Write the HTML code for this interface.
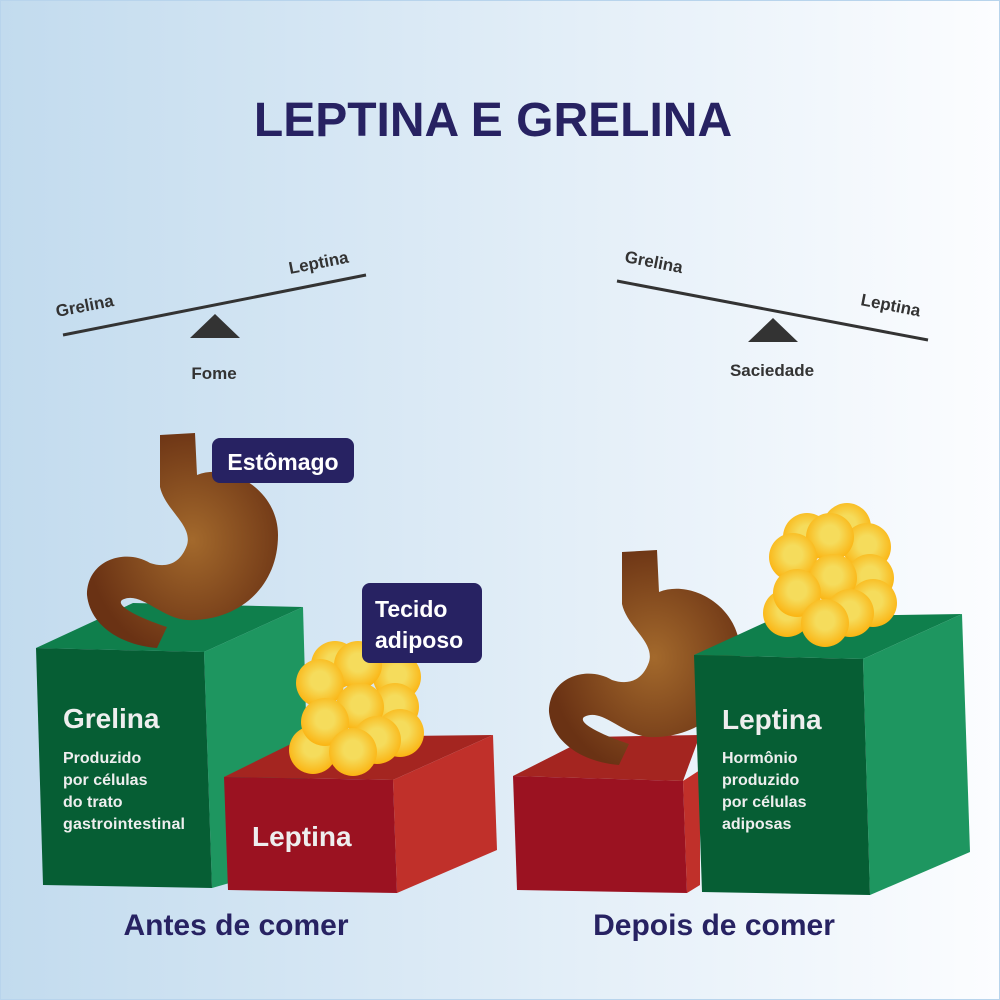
<!DOCTYPE html>
<html><head><meta charset="utf-8"><style>
html,body{margin:0;padding:0}
body{width:1000px;height:1000px;overflow:hidden}
svg{display:block}
text{font-family:"Liberation Sans",sans-serif;font-weight:bold}
</style></head><body>
<svg width="1000" height="1000" viewBox="0 0 1000 1000" xmlns="http://www.w3.org/2000/svg">
<defs>
<linearGradient id="bg" x1="0" y1="0" x2="1" y2="0">
<stop offset="0" stop-color="#c2dbee"/><stop offset="1" stop-color="#fcfdff"/></linearGradient>
<radialGradient id="st" cx="0.55" cy="0.5" r="0.55">
<stop offset="0" stop-color="#a3692c"/><stop offset="1" stop-color="#6a3214"/></radialGradient>
<radialGradient id="fat" cx="0.5" cy="0.45" r="0.55">
<stop offset="0.35" stop-color="#f5dc5c"/><stop offset="1" stop-color="#fbb412"/></radialGradient>
<path id="stom" d="M160,435 L195,433 L197,475 C230,462 278,490 278,535 C278,590 235,622 187,620 C160,618 140,590 122,600 C115,606 140,618 167,627 L157,648 C120,645 90,625 87,595 C87,560 125,548 150,563 C165,568 180,565 187,545 C193,525 165,510 160,487 Z"/>
</defs>
<rect width="1000" height="1000" fill="url(#bg)"/>
<rect x="0.5" y="0.5" width="999" height="999" fill="none" stroke="#b8d4ec"/>

<text x="493" y="136" font-size="48" fill="#272262" text-anchor="middle">LEPTINA E GRELINA</text>

<line x1="63" y1="335" x2="366" y2="275" stroke="#333" stroke-width="3"/>
<polygon points="190,338 215,314 240,338" fill="#333"/>
<text x="57" y="317" font-size="17" fill="#333" transform="rotate(-11 57 317)">Grelina</text>
<text x="290" y="274" font-size="17" fill="#333" transform="rotate(-11 290 274)">Leptina</text>
<text x="214" y="379" font-size="17" fill="#333" text-anchor="middle">Fome</text>
<line x1="617" y1="281" x2="928" y2="340" stroke="#333" stroke-width="3"/>
<polygon points="748,342 773,318 798,342" fill="#333"/>
<text x="624" y="262" font-size="17" fill="#333" transform="rotate(11 624 262)">Grelina</text>
<text x="860" y="305" font-size="17" fill="#333" transform="rotate(11 860 305)">Leptina</text>
<text x="772" y="376" font-size="17" fill="#333" text-anchor="middle">Saciedade</text>

<polygon points="36,648 133,603 303,607 204,652" fill="#0f7f4c"/>
<polygon points="204,652 303,607 310,860 212,888" fill="#1e9660"/>
<polygon points="36,648 204,652 212,888 43,885" fill="#065e34"/>
<use href="#stom" fill="url(#st)"/>
<polygon points="224,777 305,737 493,735 393,780" fill="#a42520"/>
<polygon points="393,780 493,735 497,850 397,893" fill="#c0302a"/>
<polygon points="224,777 393,780 397,893 228,890" fill="#9b1221"/>
<g fill="url(#fat)">
<circle cx="335" cy="665" r="24"/><circle cx="397" cy="677" r="24"/><circle cx="358" cy="665" r="24"/>
<circle cx="320" cy="683" r="24"/><circle cx="395" cy="707" r="24"/><circle cx="400" cy="733" r="24"/>
<circle cx="360" cy="707" r="24"/><circle cx="313" cy="750" r="24"/><circle cx="377" cy="740" r="24"/>
<circle cx="325" cy="722" r="24"/><circle cx="353" cy="752" r="24"/>
</g>
<rect x="212" y="438" width="142" height="45" rx="8" fill="#272262"/>
<text x="283" y="470" font-size="23" fill="#fff" text-anchor="middle">Estômago</text>
<rect x="362" y="583" width="120" height="80" rx="8" fill="#272262"/>
<text x="375" y="617" font-size="23" fill="#fff">Tecido</text>
<text x="375" y="648" font-size="23" fill="#fff">adiposo</text>

<text x="63" y="728" font-size="28" fill="#eee">Grelina</text>
<g font-size="16" fill="#eee">
<text x="63" y="763">Produzido</text><text x="63" y="785">por células</text>
<text x="63" y="807">do trato</text><text x="63" y="829" textLength="122">gastrointestinal</text>
</g>
<text x="252" y="846" font-size="28" fill="#eee">Leptina</text>

<polygon points="513,776 590,737 700,735 683,781" fill="#a42520"/>
<polygon points="683,781 700,770 700,885 687,893" fill="#c0302a"/>
<polygon points="513,776 683,781 687,893 517,890" fill="#9b1221"/>
<use href="#stom" fill="url(#st)" transform="translate(462,117)"/>
<polygon points="694,655 777,617 962,614 863,659" fill="#0f7f4c"/>
<polygon points="863,659 962,614 970,852 870,895" fill="#1e9660"/>
<polygon points="694,655 863,659 870,895 702,892" fill="#065e34"/>
<g fill="url(#fat)">
<circle cx="807" cy="537" r="24"/><circle cx="847" cy="527" r="24"/><circle cx="867" cy="547" r="24"/>
<circle cx="830" cy="537" r="24"/><circle cx="793" cy="557" r="24"/><circle cx="870" cy="578" r="24"/>
<circle cx="873" cy="603" r="24"/><circle cx="833" cy="578" r="24"/><circle cx="787" cy="613" r="24"/>
<circle cx="850" cy="613" r="24"/><circle cx="797" cy="593" r="24"/><circle cx="825" cy="623" r="24"/>
</g>
<text x="722" y="729" font-size="28" fill="#eee">Leptina</text>
<g font-size="16" fill="#eee">
<text x="722" y="763">Hormônio</text><text x="722" y="785">produzido</text>
<text x="722" y="807">por células</text><text x="722" y="829">adiposas</text>
</g>

<text x="236" y="935" font-size="30" fill="#272262" text-anchor="middle">Antes de comer</text>
<text x="714" y="935" font-size="30" fill="#272262" text-anchor="middle">Depois de comer</text>
</svg>
</body></html>
